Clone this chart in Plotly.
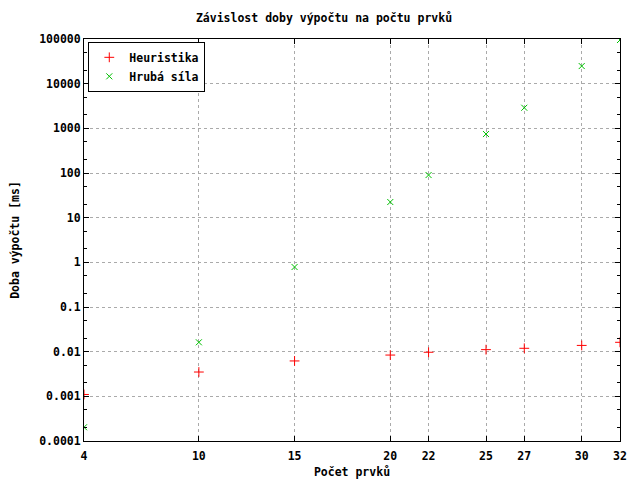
import plotly.graph_objects as go

# Data
x_vals = [4, 10, 15, 20, 22, 25, 27, 30, 32]
heuristika = [0.0011, 0.0035, 0.0062, 0.0084, 0.0097, 0.0111, 0.0119, 0.0138, 0.0162]
hruba_sila = [0.000203, 0.0162, 0.785, 22.4, 90, 745, 2890, 24800, 95000]

x_ticks = [4, 10, 15, 20, 22, 25, 27, 30, 32]
y_ticks = [0.0001, 0.001, 0.01, 0.1, 1, 10, 100, 1000, 10000, 100000]
y_labels = ["0.0001", "0.001", "0.01", "0.1", "1", "10", "100", "1000", "10000", "100000"]

FONT = dict(family="DejaVu Sans Mono", size=11.5, color="black", weight="bold")

# page body has an 8px margin, so the figure is drawn 8px smaller and offset
W, H = 632, 472

fig = go.Figure()
fig.add_trace(go.Scatter(
    x=x_vals, y=heuristika, mode="markers", name="Heuristika",
    marker=dict(symbol="cross-thin-open", size=7, color="#ff0000",
                line=dict(width=1, color="#ff0000")),
))
fig.add_trace(go.Scatter(
    x=x_vals, y=hruba_sila, mode="markers", name="Hrubá síla",
    marker=dict(symbol="x-thin-open", size=6, color="#00c000",
                line=dict(width=1, color="#00c000")),
))

fig.update_layout(
    width=W, height=H,
    margin=dict(l=76, r=20, t=31, b=39, autoexpand=False),
    paper_bgcolor="white", plot_bgcolor="white",
    font=FONT,
    title=dict(text="Závislost doby výpočtu na počtu prvků", x=0.5, xanchor="center",
               y=1 - 10 / H, yanchor="middle", font=FONT),
    legend=dict(x=0.008, y=0.993, xanchor="left", yanchor="top",
                bgcolor="white", bordercolor="black", borderwidth=1,
                font=FONT, tracegroupgap=0, itemwidth=30,
                itemsizing="trace"),
    showlegend=True,
)

fig.update_xaxes(
    range=[4, 32], tickvals=x_ticks, ticktext=[str(t) for t in x_ticks],
    ticks="inside", ticklen=5, tickcolor="black", mirror="allticks",
    showline=True, linecolor="black", linewidth=1,
    showgrid=True, gridcolor="#aaaaaa", griddash="dot", gridwidth=1,
    zeroline=False, tickfont=FONT, automargin=False, ticklabelstandoff=4,
    title=dict(text="Počet prvků", font=FONT, standoff=6),
)
fig.update_yaxes(
    type="log", range=[-4, 5], tickvals=y_ticks, ticktext=y_labels,
    ticks="inside", ticklen=5, tickcolor="black", mirror="allticks",
    showline=True, linecolor="black", linewidth=1,
    showgrid=True, gridcolor="#aaaaaa", griddash="dot", gridwidth=1,
    zeroline=False, tickfont=FONT, automargin=False,
    minor=dict(ticks="inside", ticklen=3, tickcolor="black", dtick="D2", showgrid=False),
    title=dict(text="Doba výpočtu [ms]", font=FONT, standoff=22),
)

fig.write_html("out.html")
